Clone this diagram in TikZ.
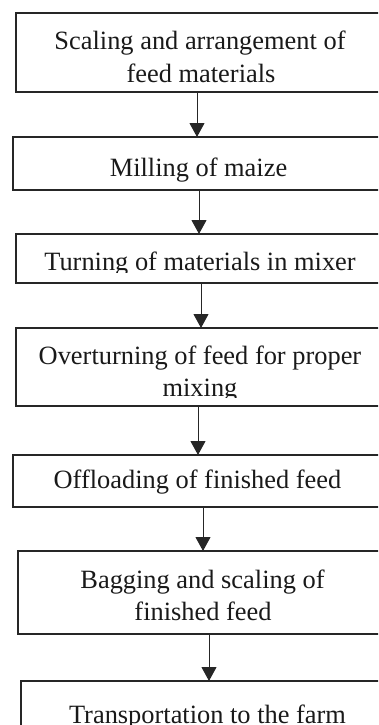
\documentclass[tikz,border=0pt]{standalone}
\usepackage{fontspec}
\setmainfont{Liberation Serif}
\usetikzlibrary{arrows.meta}
\begin{document}
\begin{tikzpicture}[x=1pt,y=-1pt,
  box/.style={draw=black!85, line width=1.4pt, fill=none, inner sep=0pt, outer sep=0pt, anchor=north west},
  txt/.style={inner sep=0pt, outer sep=0pt, anchor=base, text=black!90, font=\fontsize{26.4}{32}\selectfont},
  arr/.style={draw=black!85, line width=1pt, -{Triangle[length=14pt,width=15pt]}}]
\useasboundingbox (0,0) rectangle (378,725);
\clip (0,0) rectangle (378,725);
% boxes
\node[box, minimum width=384pt, minimum height=79pt] (b1) at (16,13) {};
\node[box, minimum width=387pt, minimum height=53pt] (b2) at (13,137) {};
\node[box, minimum width=384pt, minimum height=49pt] (b3) at (16,234) {};
\node[box, minimum width=384pt, minimum height=78pt] (b4) at (16,328) {};
\node[box, minimum width=387pt, minimum height=52pt] (b5) at (13,455) {};
\node[box, minimum width=382pt, minimum height=83pt] (b6) at (18,551) {};
\node[box, minimum width=379pt, minimum height=80pt] (b7) at (21,681) {};
% texts
\node[txt] (t1a) at (200,50) {Scaling and arrangement of};
\node[txt] (t1b) at (201,82) {feed materials};
\node[txt] (t2) at (198.5,176) {Milling of maize};
\begin{scope}
  \clip (16,234) rectangle (400,272);
  \node[txt] (t3) at (200,270) {Turning of materials in mixer};
\end{scope}
\begin{scope}
  \clip (16,328) rectangle (400,397.5);
  \node[txt] (t4a) at (200,364) {Overturning of feed for proper};
  \node[txt] (t4b) at (200,396) {mixing};
\end{scope}
\node[txt] (t5) at (197.5,488) {Offloading of finished feed};
\node[txt] (t6a) at (202.5,588) {Bagging and scaling of};
\node[txt] (t6b) at (203,620) {finished feed};
\node[txt] (t7) at (207.5,723) {Transportation to the farm};
% arrow columns
\coordinate (x1) at (197,0);
\coordinate (x2) at (199,0);
\coordinate (x3) at (201,0);
\coordinate (x4) at (198,0);
\coordinate (x5) at (203,0);
\coordinate (x6) at (209,0);
\draw[arr] (b1.south -| x1) -- (b2.north -| x1);
\draw[arr] (b2.south -| x2) -- (b3.north -| x2);
\draw[arr] (b3.south -| x3) -- (b4.north -| x3);
\draw[arr] (b4.south -| x4) -- (b5.north -| x4);
\draw[arr] (b5.south -| x5) -- (b6.north -| x5);
\draw[arr] (b6.south -| x6) -- (b7.north -| x6);
\end{tikzpicture}
\end{document}
